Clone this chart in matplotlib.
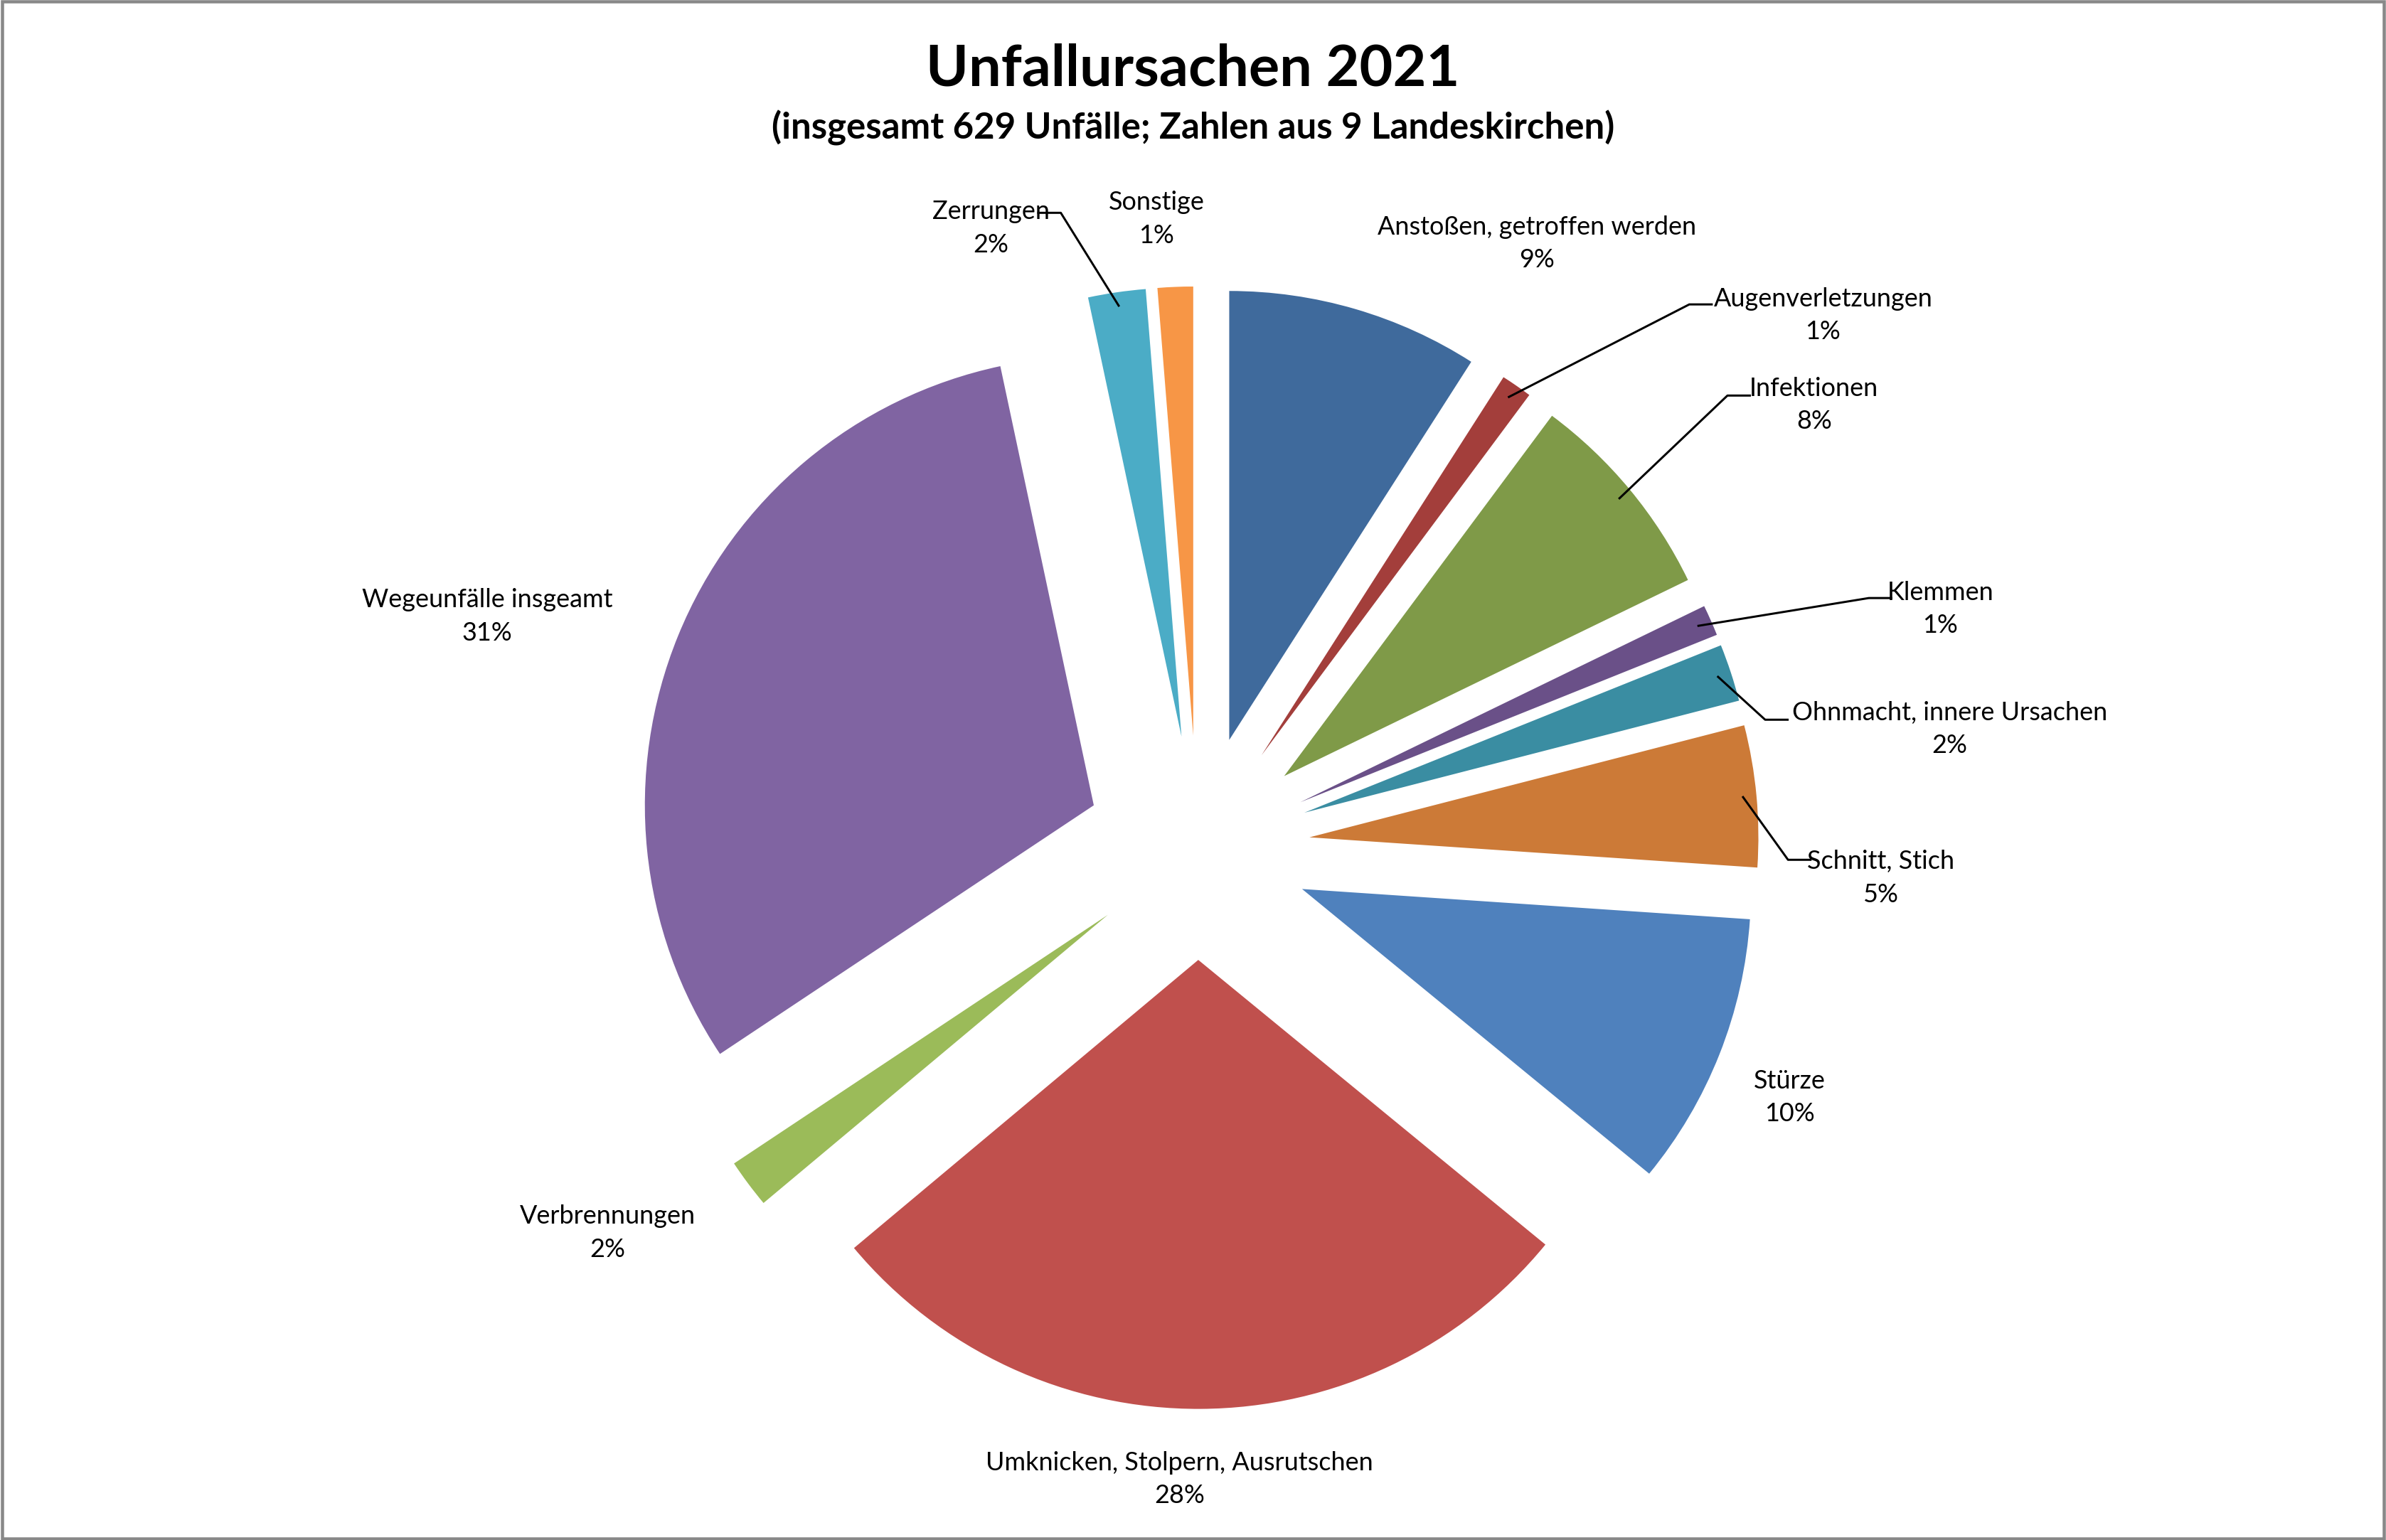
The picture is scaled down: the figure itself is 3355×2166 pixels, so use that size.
import numpy as np
import matplotlib.pyplot as plt
from matplotlib.patches import Rectangle

# data: accident counts (total 629)
labels = ["Anstoßen, getroffen werden", "Augenverletzungen", "Infektionen", "Klemmen",
          "Ohnmacht, innere Ursachen", "Schnitt, Stich", "Stürze",
          "Umknicken, Stolpern, Ausrutschen", "Verbrennungen", "Wegeunfälle insgeamt",
          "Zerrungen", "Sonstige"]
counts = [57, 7, 48, 7, 13, 32, 62, 176, 11, 195, 13, 8]
colors = ["#3F6A9C", "#A33E3B", "#7F9A48", "#6A5088", "#3A8DA2", "#CC7A37", "#4F81BD",
          "#C0504D", "#9BBB59", "#8064A2", "#4BACC6", "#F79646"]

# label text positions (data units, pie radius = 1) and optional leader anchor
label_pos = [(0.756, 1.346), (1.393, 1.186), (1.373, 0.986), (1.654, 0.532),
             (1.675, 0.264), (1.522, -0.068), (1.319, -0.556), (-0.041, -1.407),
             (-1.315, -0.858), (-1.583, 0.515), (-0.461, 1.380), (-0.092, 1.400)]
leader_anchor = [None, (1.095, 1.210), (1.180, 1.007), (1.495, 0.556),
                 (1.264, 0.285), (1.315, -0.027), None, None, None, None,
                 (-0.305, 1.414), None]

plt.rcParams['font.family'] = ['Lato', 'DejaVu Sans']

fig = plt.figure(figsize=(3355 / 216, 2166 / 216), dpi=216)
ax = fig.add_axes([0, 0, 1, 1])
ax.set_xlim(-2.668, 2.647)
ax.set_ylim(-1.542, 1.888)
ax.axis("off")

expl = 0.25
wedges, _ = ax.pie(counts, colors=colors, startangle=90, counterclock=False,
                   explode=[expl] * len(counts), radius=1, frame=True)
ax.set_xlim(-2.668, 2.647)
ax.set_ylim(-1.542, 1.888)
ax.set_aspect("auto")
ax.axis("off")

total = sum(counts)
for w, lab, c, pos, anc in zip(wedges, labels, counts, label_pos, leader_anchor):
    pct = round(100 * c / total)
    ax.text(pos[0], pos[1], f"{lab}\n{pct}%", ha="center", va="center",
            fontsize=12, linespacing=1.5)
    if anc is not None:
        th = np.deg2rad((w.theta1 + w.theta2) / 2)
        r = 1 + expl - 0.03
        px, py = r * np.cos(th), r * np.sin(th)
        side = 1 if anc[0] < pos[0] else -1
        ax.plot([px, anc[0], anc[0] + side * 0.05], [py, anc[1], anc[1]],
                color="black", lw=1)

fig.text(0.5, 0.955, "Unfallursachen 2021", ha="center", va="center",
         fontsize=27, fontweight="bold")
fig.text(0.5, 0.917, "(insgesamt 629 Unfälle; Zahlen aus 9 Landeskirchen)",
         ha="center", va="center", fontsize=17, fontweight="bold")

fig.patches.append(Rectangle((0.001, 0.001), 0.998, 0.998, transform=fig.transFigure,
                             fill=False, edgecolor="#888888", lw=1.5))

fig.savefig("out.png", dpi=216)
